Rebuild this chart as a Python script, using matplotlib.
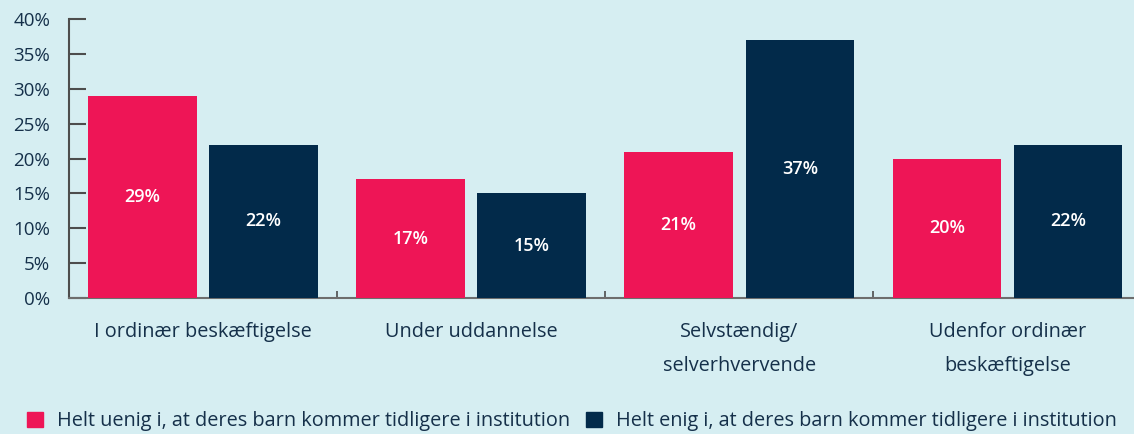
import numpy as np
import matplotlib
matplotlib.use('Agg')
import matplotlib.pyplot as plt
from matplotlib.patches import Patch

plt.rcParams['font.family'] = ['Open Sans', 'DejaVu Sans']

categories = ['I ordinær beskæftigelse', 'Under uddannelse',
              'Selvstændig/\nselverhvervende', 'Udenfor ordinær\nbeskæftigelse']
uenig = [29, 17, 21, 20]
enig = [22, 15, 37, 22]
series_names = ['Helt uenig i, at deres barn kommer tidligere i institution',
                'Helt enig i, at deres barn kommer tidligere i institution']
yticks = [0, 5, 10, 15, 20, 25, 30, 35, 40]

BG = '#d6eef2'
PINK = '#ee1556'
NAVY = '#022a4a'
TEXT = '#15304a'
AXIS = '#4d4d4d'


def main():
    fig = plt.figure(figsize=(11.34, 4.34), dpi=100, facecolor=BG)
    ax = fig.add_axes([69 / 1134, 1 - 298 / 434, 1 - 69 / 1134, (298 - 19) / 434])
    ax.set_facecolor(BG)

    x = np.arange(len(categories))
    w = 0.405
    off = 0.226
    b1 = ax.bar(x - off, uenig, w, color=PINK, zorder=3)
    b2 = ax.bar(x + off, enig, w, color=NAVY, zorder=3)

    for bars, vals in ((b1, uenig), (b2, enig)):
        for rect, v in zip(bars, vals):
            ax.text(rect.get_x() + rect.get_width() / 2, v / 2, f'{v}%',
                    ha='center', va='center', color='white', fontsize=13,
                    fontweight='semibold', zorder=4)

    ax.set_xlim(-0.5, 3.5 - 7.5 / 268)
    ax.set_ylim(0, 40)
    ax.set_yticks(yticks)
    ax.set_yticklabels([f'{t}%' for t in yticks])
    ax.tick_params(axis='y', direction='in', length=12, width=1.5, color=AXIS,
                   labelsize=13.5, labelcolor=TEXT, pad=13.5)

    ax.set_xticks(x)
    ax.set_xticklabels(categories, linespacing=1.93)
    ax.tick_params(axis='x', length=0, labelsize=14.3, labelcolor=TEXT, pad=17)
    ax.set_xticks([0.5, 1.5, 2.5], minor=True)
    ax.tick_params(axis='x', which='minor', direction='in', length=5,
                   width=1.2, color=AXIS)

    for s in ('top', 'right'):
        ax.spines[s].set_visible(False)
    ax.spines['left'].set_color(AXIS)
    ax.spines['left'].set_linewidth(1.5)
    ax.spines['bottom'].set_color('#6d6d6d')
    ax.spines['bottom'].set_linewidth(1.5)

    handles = [Patch(color=PINK), Patch(color=NAVY)]
    fig.legend(handles, series_names, loc='center', ncol=2,
               bbox_to_anchor=(572 / 1134, 1 - 421 / 434), frameon=False,
               fontsize=14.3, labelcolor=TEXT, handlelength=0.8, handleheight=0.8,
               handletextpad=0.7, columnspacing=0.8, borderpad=0, borderaxespad=0)

    fig.savefig('out.png', dpi=100, facecolor=BG)


if __name__ == '__main__':
    main()
